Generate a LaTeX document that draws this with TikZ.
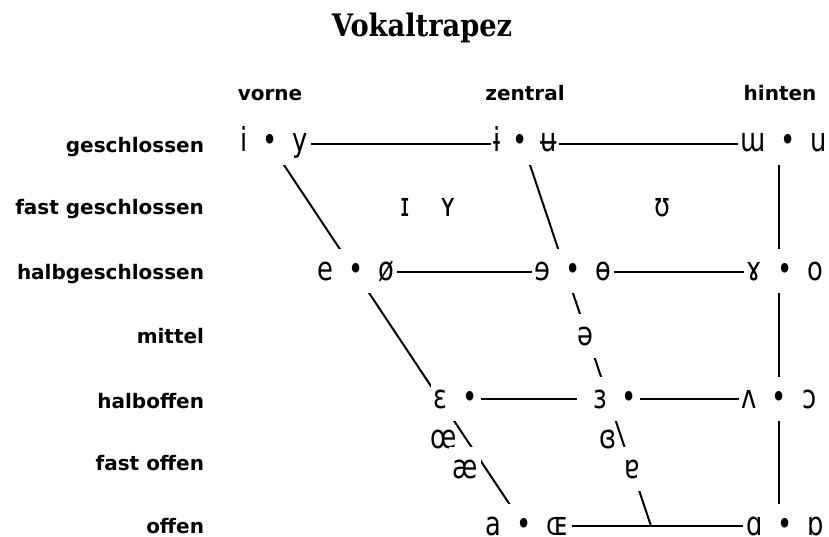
\documentclass[tikz,border=0pt]{standalone}
\usepackage{fontspec}
\newfontfamily\ipafont[FakeStretch=0.78]{DejaVu Sans}
\newfontfamily\lblfont{DejaVu Sans}
\newfontfamily\ttlfont[FakeStretch=0.88]{DejaVu Serif}
\newcommand\vgap{\hspace{15pt}}

\tikzset{every picture/.style={line width=2pt}}
\tikzset{
  vowel/.style={anchor=base, fill=white, inner xsep=3pt, inner ysep=3pt,
    text height=28pt, text depth=10pt, font=\ipafont\fontsize{33}{33}\selectfont},
  loose/.style={anchor=base, inner sep=0pt, font=\ipafont\fontsize{33}{33}\selectfont},
  rowlbl/.style={anchor=base east, inner sep=0pt, font=\lblfont\bfseries\fontsize{20}{20}\selectfont},
  collbl/.style={anchor=base, inner sep=0pt, font=\lblfont\bfseries\fontsize{20}{20}\selectfont},
}

\begin{document}
\begin{tikzpicture}[x=1pt,y=1pt,yscale=-1,xscale=1]
\useasboundingbox (0,0) rectangle (829,537);

% corners of the trapezium
\coordinate (fc) at (270,144);
\coordinate (cc) at (523,144);
\coordinate (bc) at (779,144);
\coordinate (fm) at (355,272);
\coordinate (bm) at (779,272);
\coordinate (fh) at (439,399);
\coordinate (bh) at (779,399);
\coordinate (fo) at (524,526);
\coordinate (co) at (651,526);
\coordinate (bo) at (779,526);

%Straight Lines
\draw (fc) -- (bc);
\draw (fm) -- (bm);
\draw (fh) -- (bh);
\draw (fo) -- (bo);
%Straight Lines
\draw (fc) -- (fo);
\draw (cc) -- (co);
\draw (bc) -- (bo);

% Text Node
\draw (422,37) node (title) [anchor=base, inner sep=0pt, font=\ttlfont\bfseries\fontsize{31}{31}\selectfont] {Vokaltrapez};

% Text Node
\draw (270,101) node (hfront) [collbl] {vorne};
\draw (525,101) node (hcentral) [collbl] {zentral};
\draw (780,101) node (hback) [collbl] {hinten};

% Text Node
\draw (205,153) node (lclose) [rowlbl] {geschlossen};
\draw (205,215) node (lnearclose) [rowlbl] {fast geschlossen};
\draw (205,279) node (lclosemid) [rowlbl] {halbgeschlossen};
\draw (205,343) node (lmid) [rowlbl] {mittel};
\draw (205,408) node (lopenmid) [rowlbl] {halboffen};
\draw (205,470) node (lnearopen) [rowlbl] {fast offen};
\draw (205,533) node (lopen) [rowlbl] {offen};

% Text Node
\draw (274,152) node (closeF) [vowel] {i\vgap•\vgap y};
\draw (525,152) node (closeC) [vowel] {ɨ\hspace{12pt}•\hspace{12pt}ʉ};
\draw (784,152) node (closeB) [vowel] {ɯ\vgap•\vgap u};

% Text Node
\draw (405,217) node (nearF1) [loose] {ɪ};
\draw (448,217) node (nearF2) [loose] {ʏ};
\draw (662,217) node (nearB) [loose] {ʊ};

% Text Node
\draw (356,280) node (midcloseF) [vowel] {e\vgap•\vgap ø};
\draw (573,280) node (midcloseC) [vowel] {ɘ\vgap•\vgap ɵ};
\draw (785,280) node (midcloseB) [vowel] {ɤ\vgap•\vgap o};

% Text Node
\draw (585,345) node (schwa) [vowel] {ə};

% Text Node
\draw (456,408) node (midopenF) [vowel] {ɛ\vgap•\hspace{18pt}};
\draw (608.5,408) node (midopenC) [vowel] {\hspace{13pt}ɜ\vgap•\hspace{16pt}};
\draw (779,408) node (midopenB) [vowel] {ʌ\vgap•\vgap ɔ};

% Text Node
\draw (444,448) node (oe) [loose] {œ};
\draw (608,448) node (reveps) [loose] {ɞ};
\draw (465,478) node (ae) [vowel] {æ};
\draw (632,478) node (turna) [vowel] {ɐ};

% Text Node
\draw (527,535) node (openF) [vowel] {a\vgap•\vgap ɶ};
\draw (785,535) node (openB) [vowel] {ɑ\vgap•\vgap ɒ};

\end{tikzpicture}
\end{document}
